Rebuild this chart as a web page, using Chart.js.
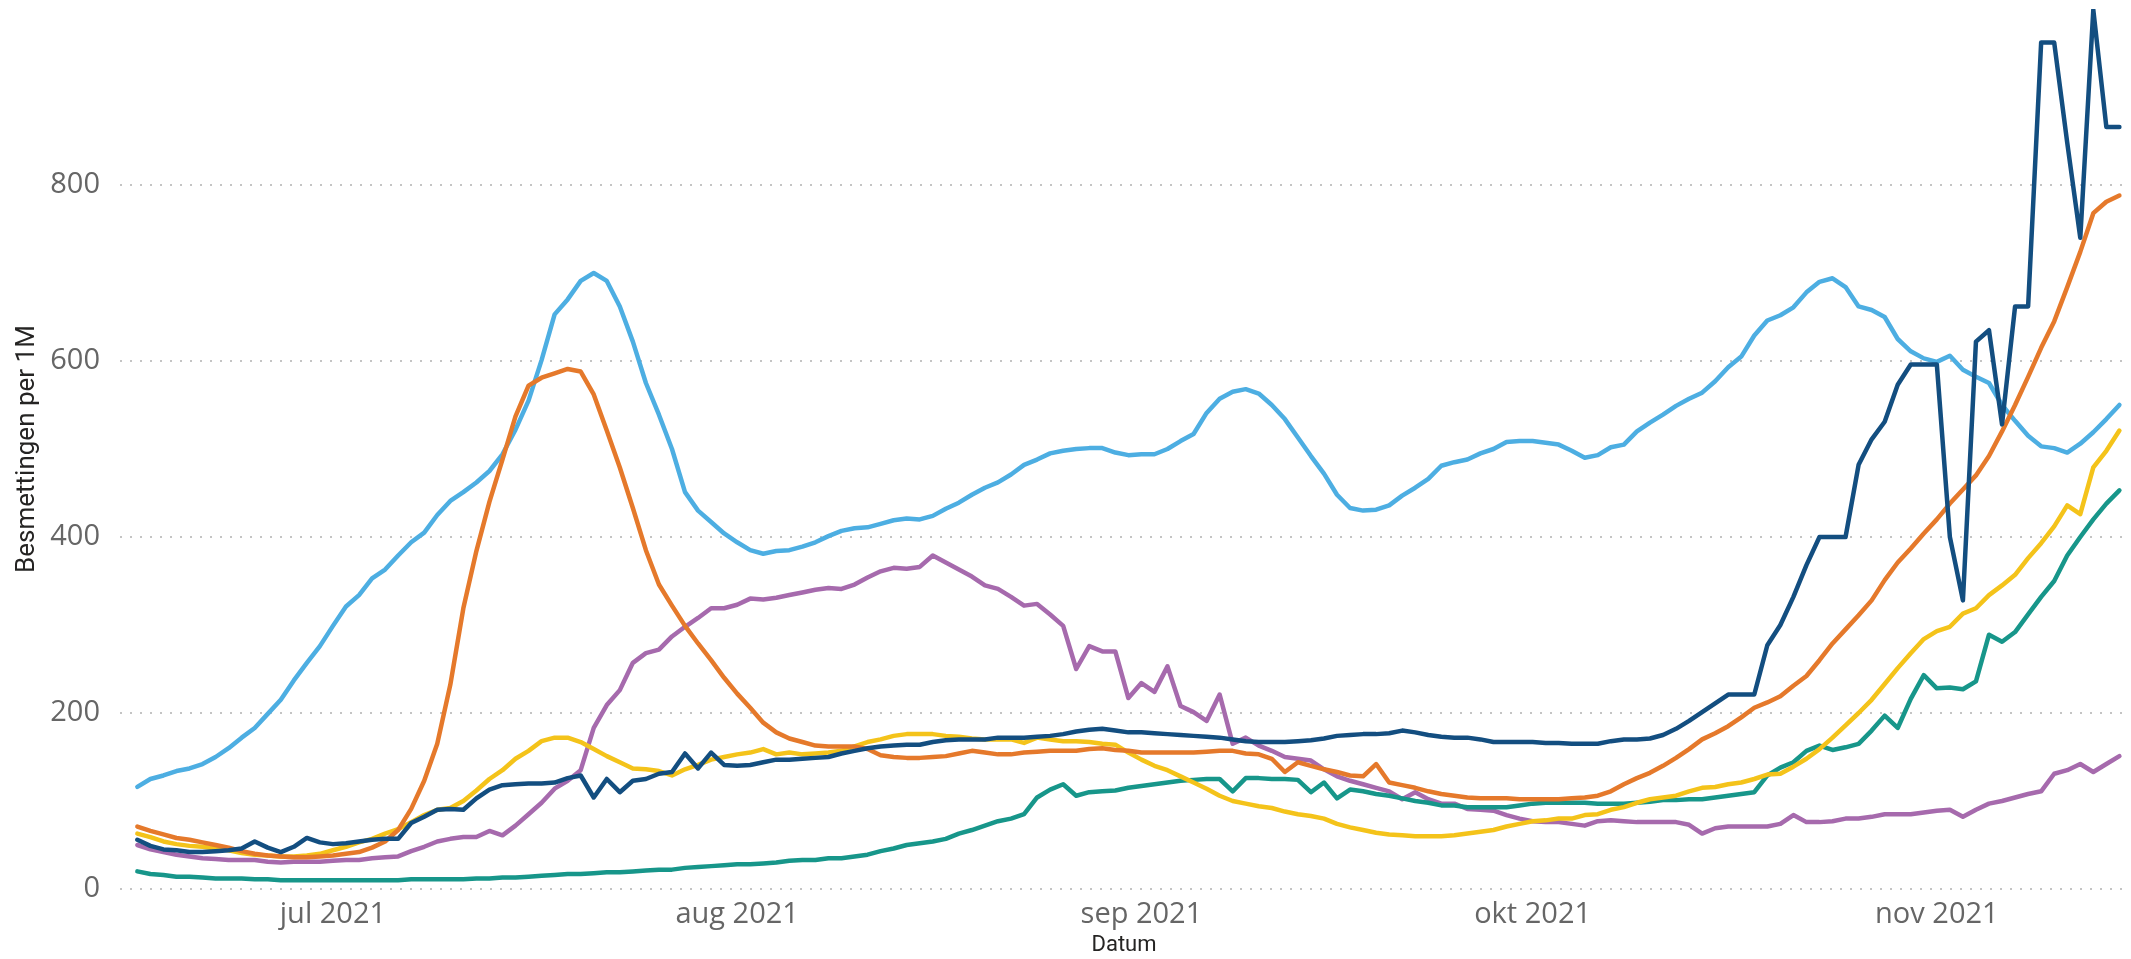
<!DOCTYPE html>
<html>
<head>
<meta charset="utf-8">
<title>Besmettingen per 1M</title>
<script src="https://cdn.jsdelivr.net/npm/chart.js@4.4.1/dist/chart.umd.min.js"></script>
<style>
  html, body { margin: 0; padding: 0; background: #fff; }
  #wrap { width: 2131px; height: 959px; position: relative; }
</style>
</head>
<body>
<div id="wrap"><canvas id="chart"></canvas></div>
<script>
// one value per day, 16 jun 2021 (index 0) up to 15 nov 2021 (index 152)
const monthTicks = [15, 46, 77, 107, 138];
const monthLabels = ["jul 2021", "aug 2021", "sep 2021", "okt 2021", "nov 2021"];
const yTicks = [0, 200, 400, 600, 800];

const darkBlue = [
  56, 49, 45, 44, 42, 42, 43, 44, 46, 54,
  47, 42, 48, 58, 53, 51, 52, 54, 56, 57,
  57, 75, 82, 90, 91, 90, 103, 113, 118, 119,
  120, 120, 121, 126, 129, 104, 125, 110, 123, 125,
  131, 133, 154, 137, 155, 141, 140, 141, 144, 147,
  147, 148, 149, 150, 154, 157, 160, 162, 163, 164,
  164, 167, 169, 170, 170, 170, 172, 172, 172, 173,
  174, 176, 179, 181, 182, 180, 178, 178, 177, 176,
  175, 174, 173, 172, 170, 168, 167, 167, 167, 168,
  169, 171, 174, 175, 176, 176, 177, 180, 178, 175,
  173, 172, 172, 170, 167, 167, 167, 167, 166, 166,
  165, 165, 165, 168, 170, 170, 171, 175, 182, 191,
  201, 211, 221, 221, 221, 277, 300, 332, 368, 400,
  400, 400, 482, 511, 531, 573, 596, 596, 596, 400,
  328, 622, 635, 528, 662, 662, 962, 962, 848, 740,
  999, 866, 866
];

const lightBlue = [
  116, 125, 129, 134, 137, 142, 150, 160, 172, 183,
  199, 215, 237, 257, 276, 299, 321, 334, 353, 363,
  379, 394, 405, 425, 441, 451, 462, 475, 494, 522,
  555, 601, 653, 670, 691, 700, 691, 662, 622, 575,
  539, 500, 451, 430, 417, 404, 394, 385, 381, 384,
  385, 389, 394, 401, 407, 410, 411, 415, 419, 421,
  420, 424, 432, 439, 448, 456, 462, 471, 482, 488,
  495, 498, 500, 501, 501, 496, 493, 494, 494, 500,
  509, 517, 541, 557, 565, 568, 563, 550, 534, 513,
  492, 472, 448, 433, 430, 431, 436, 447, 456, 466,
  481, 485, 488, 495, 500, 508, 509, 509, 507, 505,
  498, 490, 493, 502, 505, 520, 530, 539, 549, 557,
  564, 577, 593, 605, 629, 646, 652, 661, 678, 690,
  694, 684, 662, 658, 650, 625, 611, 603, 599, 606,
  590, 582, 575, 550, 532, 515, 503, 501, 496, 506,
  519, 534, 550
];

const orange = [
  71, 66, 62, 58, 56, 53, 50, 47, 43, 40,
  38, 37, 36, 36, 37, 38, 40, 42, 47, 54,
  67, 91, 123, 165, 232, 319, 384, 440, 488, 537,
  572, 581, 586, 591, 588, 562, 521, 479, 433, 385,
  346, 322, 299, 279, 260, 240, 222, 206, 189, 178,
  171, 167, 163, 162, 162, 162, 159, 152, 150, 149,
  149, 150, 151, 154, 157, 155, 153, 153, 155, 156,
  157, 157, 157, 159, 160, 158, 157, 155, 155, 155,
  155, 155, 156, 157, 157, 154, 153, 148, 133, 144,
  140, 136, 133, 129, 128, 142, 121, 118, 115, 111,
  108, 106, 104, 103, 103, 103, 102, 102, 102, 102,
  103, 104, 106, 111, 119, 126, 132, 140, 149, 159,
  170, 177, 185, 195, 206, 212, 219, 231, 242, 260,
  279, 295, 311, 328, 351, 371, 387, 404, 420, 438,
  454, 470, 492, 520, 550, 582, 615, 645, 684, 724,
  768, 781, 788
];

const purple = [
  50, 45, 42, 39, 37, 35, 34, 33, 33, 33,
  31, 30, 31, 31, 31, 32, 33, 33, 35, 36,
  37, 43, 48, 54, 57, 59, 59, 66, 61, 72,
  85, 98, 114, 123, 135, 183, 209, 226, 257, 268,
  272, 287, 298, 308, 319, 319, 323, 330, 329, 331,
  334, 337, 340, 342, 341, 346, 354, 361, 365, 364,
  366, 379, 371, 363, 355, 345, 341, 332, 322, 324,
  312, 299, 250, 276, 270, 270, 217, 234, 224, 253,
  208, 201, 191, 221, 165, 172, 163, 157, 150, 148,
  146, 136, 128, 123, 119, 115, 111, 102, 110, 102,
  97, 97, 91, 90, 89, 84, 80, 77, 76, 76,
  74, 72, 77, 78, 77, 76, 76, 76, 76, 73,
  63, 69, 71, 71, 71, 71, 74, 84, 76, 76,
  77, 80, 80, 82, 85, 85, 85, 87, 89, 90,
  82, 90, 97, 100, 104, 108, 111, 131, 135, 142,
  133, 142, 151
];

const yellow = [
  63, 59, 54, 51, 49, 48, 46, 44, 41, 39,
  38, 37, 37, 38, 40, 44, 48, 53, 57, 63,
  68, 76, 84, 90, 92, 100, 112, 125, 135, 148,
  157, 168, 172, 172, 167, 159, 151, 144, 137, 136,
  134, 129, 136, 141, 147, 150, 153, 155, 159, 153,
  155, 153, 154, 155, 157, 162, 167, 170, 174, 176,
  176, 176, 174, 173, 171, 170, 170, 170, 166, 172,
  170, 168, 168, 167, 165, 164, 155, 147, 140, 135,
  128, 121, 114, 106, 100, 97, 94, 92, 88, 85,
  83, 80, 74, 70, 67, 64, 62, 61, 60, 60,
  60, 61, 63, 65, 67, 71, 74, 77, 78, 80,
  80, 84, 85, 90, 93, 98, 102, 104, 106, 111,
  115, 116, 119, 121, 125, 130, 131, 139, 148, 159,
  172, 186, 200, 215, 233, 251, 268, 284, 293, 298,
  313, 319, 334, 345, 357, 376, 393, 412, 436, 426,
  479, 498, 521
];

const teal = [
  20, 17, 16, 14, 14, 13, 12, 12, 12, 11,
  11, 10, 10, 10, 10, 10, 10, 10, 10, 10,
  10, 11, 11, 11, 11, 11, 12, 12, 13, 13,
  14, 15, 16, 17, 17, 18, 19, 19, 20, 21,
  22, 22, 24, 25, 26, 27, 28, 28, 29, 30,
  32, 33, 33, 35, 35, 37, 39, 43, 46, 50,
  52, 54, 57, 63, 67, 72, 77, 80, 85, 104,
  113, 119, 106, 110, 111, 112, 115, 117, 119, 121,
  123, 124, 125, 125, 111, 126, 126, 125, 125, 124,
  110, 121, 103, 113, 111, 108, 106, 103, 100, 98,
  95, 95, 93, 93, 93, 93, 95, 97, 98, 98,
  98, 98, 97, 97, 97, 98, 99, 101, 101, 102,
  102, 104, 106, 108, 110, 129, 138, 144, 157, 163,
  158, 161, 165, 180, 197, 183, 216, 243, 228, 229,
  227, 236, 289, 281, 292, 312, 332, 350, 379, 400,
  420, 438, 453
];

const toPoints = (values) => values.map((v, i) => ({ x: i, y: v }));

const line = (label, values, color, order) => ({
  label,
  data: toPoints(values),
  borderColor: color,
  backgroundColor: color,
  borderWidth: 4.5,
  pointRadius: 0,
  tension: 0,
  fill: false,
  borderJoinStyle: "round",
  borderCapStyle: "round",
  order,
});

const tickFont = { family: "'Open Sans', sans-serif", size: 29 };

new Chart(document.getElementById("chart"), {
  type: "line",
  data: {
    datasets: [
      line("donkerblauw", darkBlue, "#134E80", 0),
      line("oranje", orange, "#E5792B", 1),
      line("lichtblauw", lightBlue, "#4DAEE2", 2),
      line("geel", yellow, "#F4C31A", 3),
      line("groenblauw", teal, "#17968A", 4),
      line("paars", purple, "#A66AAD", 5),
    ],
  },
  options: {
    responsive: true,
    maintainAspectRatio: false,
    animation: false,
    layout: { padding: { top: 9, right: 3, left: 0, bottom: 0 } },
    plugins: { legend: { display: false }, tooltip: { enabled: false } },
    scales: {
      x: {
        type: "linear",
        min: -1.33,
        max: 152.66,
        grid: { display: false },
        border: { display: false },
        afterBuildTicks: (scale) => { scale.ticks = monthTicks.map((v) => ({ value: v })); },
        afterFit: (scale) => {
          scale.height = 70;
          scale.paddingLeft = 0;
          scale.paddingRight = 0;
        },
        ticks: {
          autoSkip: false,
          maxRotation: 0,
          padding: 0,
          color: "#666666",
          font: tickFont,
          callback: (value, index) => monthLabels[index],
        },
        title: { display: true, text: "Datum", color: "#252423", font: { family: "Roboto, sans-serif", size: 22 }, padding: 0 },
      },
      y: {
        min: 0,
        max: 1000,
        afterBuildTicks: (scale) => { scale.ticks = yTicks.map((v) => ({ value: v })); },
        afterFit: (scale) => {
          scale.width = 120;
          scale.paddingTop = 0;
          scale.paddingBottom = 0;
        },
        grid: { color: "#c4c4c4", lineWidth: 2, drawTicks: false },
        border: { display: false, dash: [2, 8] },
        ticks: { padding: 20, color: "#666666", font: tickFont },
        title: { display: true, text: "Besmettingen per 1M", color: "#252423", font: { family: "Roboto, sans-serif", size: 26 }, padding: { top: 12, bottom: 0 } },
      },
    },
  },
});
</script>
</body>
</html>
